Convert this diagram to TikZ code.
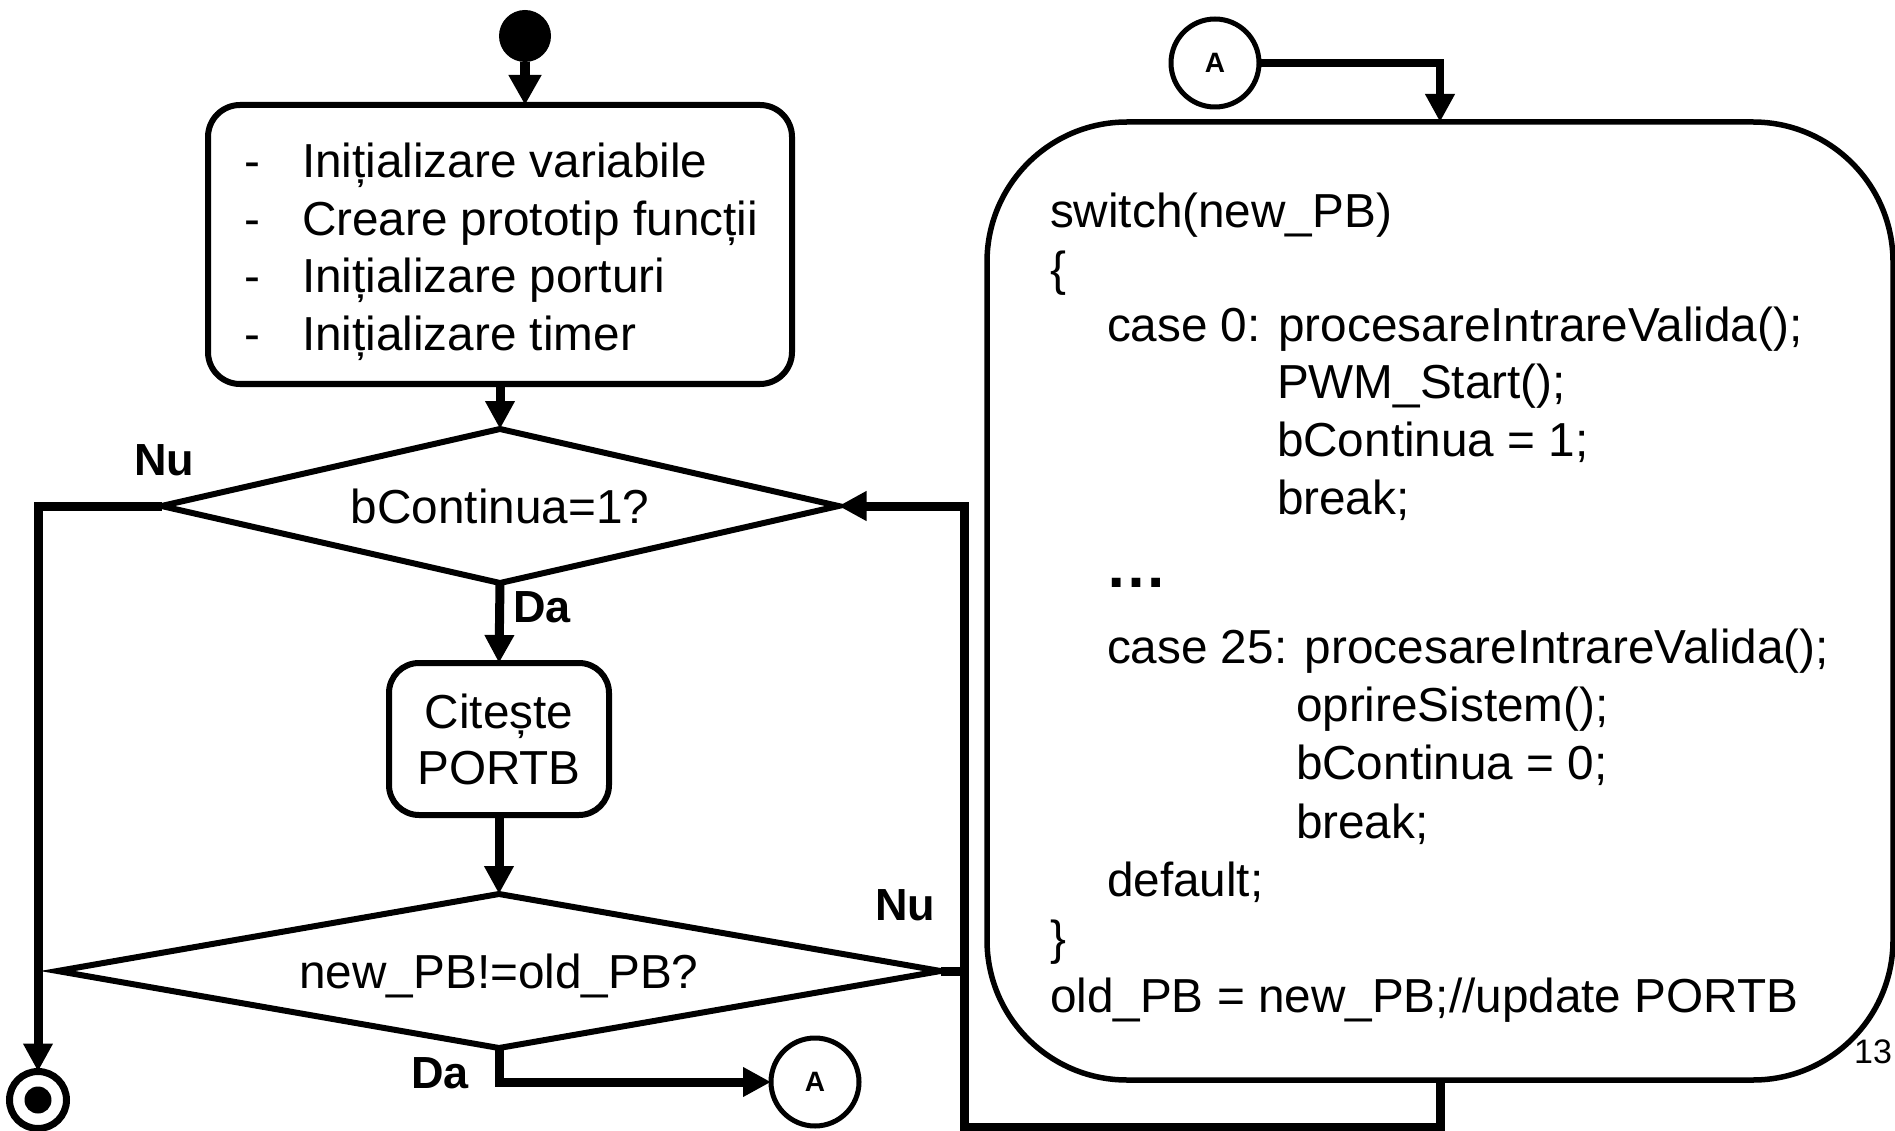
\documentclass[tikz,border=0pt]{standalone}
\usepackage{fontspec}
\setmainfont{Liberation Sans}
\usetikzlibrary{arrows.meta,shapes.geometric}

\begin{document}
\begin{tikzpicture}[x=1pt,y=-1pt,
  every node/.style={inner sep=0pt,outer sep=0pt},
  body/.style={font=\fontsize{47.7pt}{56pt}\selectfont},
  codeline/.style={body,anchor=base west},
  lbl/.style={font=\bfseries\fontsize{45pt}{48pt}\selectfont},
  stepbox/.style={draw,line width=6pt,body},
  decision/.style={diamond,draw,line width=6pt,body,text depth=0pt},
  connector/.style={circle,draw,line width=5pt,minimum size=88pt,
    font=\bfseries\fontsize{28pt}{30pt}\selectfont},
  flow/.style={line width=9pt,-{Triangle[length=28pt,width=28pt]}},
  wire/.style={line width=9pt}
]
\useasboundingbox (0,0) rectangle (1895,1131);

% start and end markers
\node[circle,fill,minimum size=52pt] (start) at (525,36) {};
\node[circle,draw,line width=7pt,minimum size=57pt] (stop) at (38,1100) {};
\node[circle,fill,minimum size=27pt] (stopdot) at (stop.center) {};

% initialisation block
\node[stepbox,rounded corners=32pt,minimum width=584pt,minimum height=279pt] (init) at (500,244.5) {};
\foreach \t [count=\i] in {Inițializare variabile,Creare prototip funcții,Inițializare porturi,Inițializare timer}{
  \node[codeline] (initdash\i) at (244,120.5+57.5*\i) {-};
  \node[codeline] (inittext\i) at (302,120.5+57.5*\i) {\t};
}

% main loop
\node[decision,aspect=4.4,minimum width=677pt,minimum height=154pt] (d1) at (500,506) {bContinua=1?};
\node[stepbox,rounded corners=30pt,minimum width=220pt,minimum height=152pt,align=center] (read) at (499,739) {Citește\\PORTB};
\node[decision,aspect=5.7,minimum width=883pt,minimum height=154pt] (d2) at (499,971) {new\_PB!=old\_PB?};

% off-page connectors
\node[connector] (abot) at (815,1082) {A};
\node[connector] (atop) at (1215,63) {A};

% switch block
\node[draw,line width=5.5pt,rounded corners=140pt,minimum width=906pt,minimum height=958pt] (code) at (1440,601) {};
\node[codeline] (c1) at (1050,228) {switch(new\_PB)};
\node[codeline] (c2) at (1050,286) {\{};
\node[codeline] (c3) at (1107,342) {case 0: procesareIntrareValida();};
\node[codeline] (c4) at (1277,399) {PWM\_Start();};
\node[codeline] (c5) at (1277,456) {bContinua = 1;};
\node[codeline] (c6) at (1277,514) {break;};
\node[anchor=base west,font=\bfseries\fontsize{62pt}{64pt}\selectfont] (c7) at (1105,587) {…};
\node[codeline] (c8) at (1107,663) {case 25: procesareIntrareValida();};
\node[codeline] (c9) at (1296,721) {oprireSistem();};
\node[codeline] (c10) at (1296,779) {bContinua = 0;};
\node[codeline] (c11) at (1296,838) {break;};
\node[codeline] (c12) at (1107,896) {default;};
\node[codeline] (c13) at (1050,954) {\}};
\node[codeline] (c14) at (1050,1012) {old\_PB = new\_PB;//update PORTB};

\node[font=\fontsize{34pt}{36pt}\selectfont] (pagenum) at (1873,1052) {13};

% branch labels
\node[lbl] (nu1) at (164,460) {Nu};
\node[lbl] (da1) at (542,607) {Da};
\node[lbl] (nu2) at (905,905) {Nu};
\node[lbl] (da2) at (440,1073) {Da};

% connectors
\coordinate (ret) at (964,1127);
\draw[line width=10pt,-{Triangle[length=30pt,width=31pt]}] (start) -- (start |- init.north);
\draw[flow] (init.south) -- (d1.north);
\draw[flow] (d1.south) -- (read.north);
\draw[flow] (read.south) -- (d2.north);
\draw[flow] (d1.west) -| (stop.north);
\draw[flow] (d2.south) |- (abot.west);
\draw[flow,line width=8pt] (atop.east) -| (code.north);
\draw[flow] (code.south) |- (ret) |- (d1.east);
\draw[wire] (d2.east) -- (d2.east -| ret);
\end{tikzpicture}
\end{document}
